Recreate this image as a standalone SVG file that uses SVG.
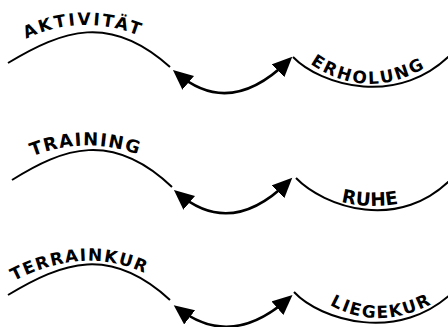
<svg xmlns="http://www.w3.org/2000/svg" width="448" height="327" viewBox="0 0 448 327">
<style>
.arc{fill:none;stroke:#000;stroke-width:2;stroke-linecap:butt}
.con{fill:none;stroke:#000;stroke-width:2.5;marker-start:url(#ah);marker-end:url(#ah)}
.lbl{font-family:"DejaVu Sans","Liberation Sans",Arial,sans-serif;font-weight:bold;fill:#000}
</style>
<defs>
<marker id="ah" markerUnits="userSpaceOnUse" markerWidth="22" markerHeight="20" refX="14" refY="9" orient="auto-start-reverse">
<path d="M0,0 L20,9 L0,18 z" fill="#000"/>
</marker>
<path id="p1" d="M20,42 Q80,10 145,38"/>
<path id="p2" d="M305,60 Q365,105 430,65"/>
<path id="p3" d="M28,158 Q85,134 142,156"/>
<path id="p4" d="M320,195 Q370,215 420,198"/>
<path id="p5" d="M8,284 Q85,242 150,276"/>
<path id="p6" d="M322,300 Q376,336 439,300"/>
</defs>

<g id="aktivitaet">
<path class="arc" d="M8,63 C63,30 110,13 170,67"/>
<text class="lbl" font-size="17" text-anchor="middle"><textPath href="#p1" startOffset="50%" textLength="116" lengthAdjust="spacing">AKTIVITÄT</textPath></text>
</g>
<g id="erholung">
<path class="arc" d="M293,57 C320,85 400,110 455,50"/>
<text class="lbl" font-size="17" text-anchor="middle"><textPath href="#p2" startOffset="50%" textLength="122" lengthAdjust="spacing">ERHOLUNG</textPath></text>
</g>
<g id="training">
<path class="arc" d="M12,180 C63,148 112,130 172,187"/>
<text class="lbl" font-size="18" text-anchor="middle"><textPath href="#p3" startOffset="50%" textLength="108" lengthAdjust="spacing">TRAINING</textPath></text>
</g>
<g id="ruhe">
<path class="arc" d="M296,178 C323,206 400,235 455,175"/>
<text class="lbl" font-size="18.5" text-anchor="middle"><textPath href="#p4" startOffset="50%" textLength="58" lengthAdjust="spacing">RUHE</textPath></text>
</g>
<g id="terrainkur">
<path class="arc" d="M8,295 C63,262 110,245 170,300"/>
<text class="lbl" font-size="17" text-anchor="middle"><textPath href="#p5" startOffset="50%" textLength="136" lengthAdjust="spacing">TERRAINKUR</textPath></text>
</g>
<g id="liegekur">
<path class="arc" d="M294,292 C320,320 400,345 455,290"/>
<text class="lbl" font-size="17" text-anchor="middle"><textPath href="#p6" startOffset="50%" textLength="106" lengthAdjust="spacing">LIEGEKUR</textPath></text>
</g>

<g id="connectors">
<path class="con" d="M177.5,73.8 Q230,118 288,61"/>
<path class="con" d="M178.5,193.8 Q231,238 288,182"/>
<path class="con" d="M178.5,308.8 Q231,349 288,299"/>
</g>
</svg>
